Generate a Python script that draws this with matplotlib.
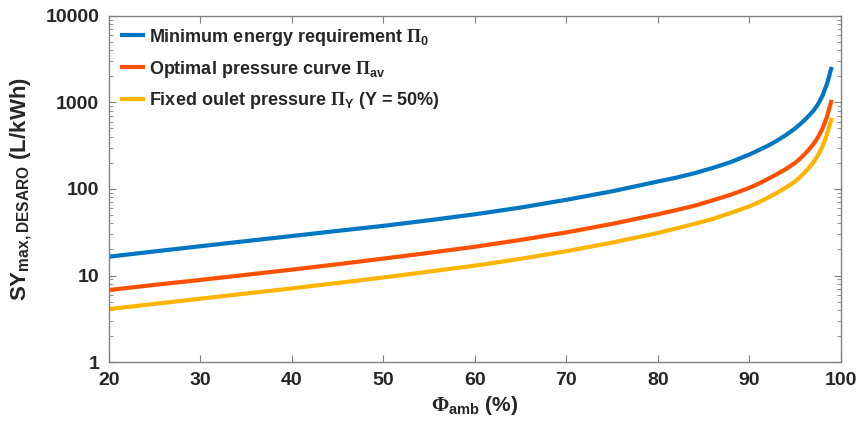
import numpy as np
import matplotlib
matplotlib.use("Agg")
from matplotlib import pyplot as plt
from matplotlib.ticker import LogLocator, NullFormatter

plt.rcParams['font.family'] = ['Liberation Sans', 'DejaVu Sans']
plt.rcParams['font.weight'] = 'bold'
plt.rcParams['mathtext.fontset'] = 'custom'
plt.rcParams['mathtext.rm'] = 'Liberation Serif'
plt.rcParams['mathtext.bf'] = 'Liberation Sans:bold'
plt.rcParams['mathtext.it'] = 'Liberation Sans:bold'

# ambient relative humidity (%)
phi = [20, 25, 30, 35, 40, 45, 50, 55, 60, 65, 70, 75, 80, 82, 84, 86, 88, 90,
       91, 92, 93, 94, 95, 95.5, 96, 96.5, 97, 97.5, 98, 98.5, 99]

# SY_max,DESARO (L/kWh)
sy_min = [16.5, 19.0, 21.8, 25.0, 28.6, 32.8, 37.5, 43.5, 51, 61, 75, 94, 122, 135, 152, 175, 205, 250,
          280, 315, 360, 420, 500, 555, 620, 700, 800, 950, 1200, 1650, 2570]
sy_opt = [6.8, 7.8, 8.9, 10.2, 11.7, 13.5, 15.7, 18.3, 21.5, 25.8, 31.5, 39.5, 51, 57, 64, 74, 86, 103,
          115, 130, 148, 170, 200, 222, 250, 285, 330, 395, 500, 690, 1070]
sy_fix = [4.1, 4.7, 5.4, 6.2, 7.1, 8.2, 9.5, 11.1, 13.0, 15.6, 19.1, 24.0, 31, 35, 39.5, 45, 53, 63,
          70, 79, 90, 104, 122, 136, 153, 175, 203, 245, 310, 430, 660]

labels = [r'Minimum energy requirement $\Pi_{\mathbf{0}}$',
          r'Optimal pressure curve $\Pi_{\mathbf{av}}$',
          r'Fixed oulet pressure $\Pi_{\mathbf{Y}}$ (Y = 50%)']
colors = ['#0077C0', '#FF5000', '#FFB400']

fig = plt.figure(figsize=(8.6, 4.29), dpi=100)
ax = fig.add_axes([0.1267, 0.156, 0.851, 0.807])

for y, lab, c in zip([sy_min, sy_opt, sy_fix], labels, colors):
    ax.plot(phi, y, color=c, lw=3.0, label=lab, solid_capstyle='butt')

ax.set_yscale('log')
ax.set_xlim(20, 100)
ax.set_ylim(1, 10000)
ax.set_xticks([20, 30, 40, 50, 60, 70, 80, 90, 100])
ax.set_yticks([1, 10, 100, 1000, 10000])
ax.set_yticklabels(['1', '10', '100', '1000', '10000'])
ax.yaxis.set_minor_locator(LogLocator(base=10, subs=np.arange(2, 10)))
ax.yaxis.set_minor_formatter(NullFormatter())

for s in ax.spines.values():
    s.set_color('#808080')
    s.set_linewidth(1.0)
ax.tick_params(which='both', direction='in', top=True, right=True, color='#808080',
               labelsize=14, labelcolor='#262626')
ax.tick_params(which='major', length=5, pad=7)
ax.tick_params(which='minor', length=3)

ax.set_xlabel(r'$\Phi_{\mathbf{amb}}$ (%)', fontsize=15, fontweight='bold',
              color='#262626', labelpad=4)
ax.set_ylabel(r'SY$_{\mathbf{max,DESARO}}$ (L/kWh)', fontsize=16, fontweight='bold',
              color='#262626', labelpad=8)

leg = ax.legend(loc='upper left', frameon=False, fontsize=13, handlelength=1.4,
                handletextpad=0.2, labelspacing=0.6, borderaxespad=0.2,
                bbox_to_anchor=(0.0, 1.0))
for t in leg.get_texts():
    t.set_color('#262626')

fig.savefig('out.png', dpi=100)
